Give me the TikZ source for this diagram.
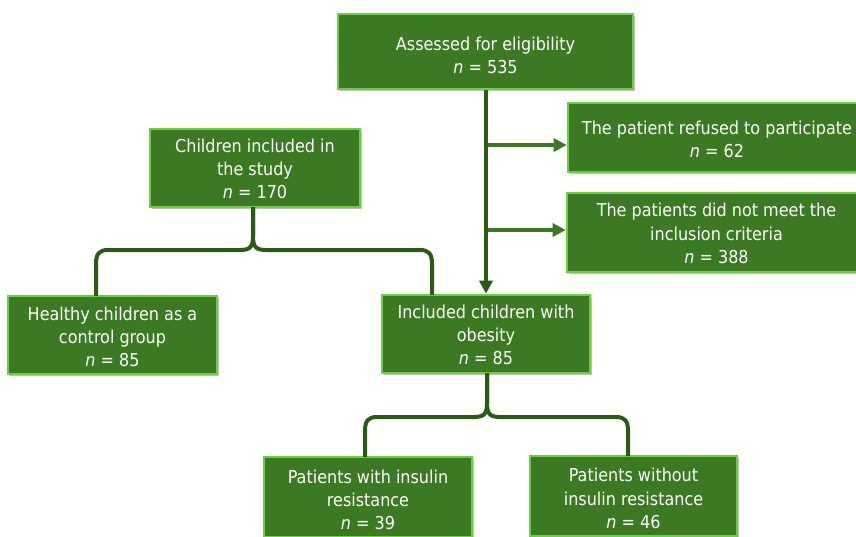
\documentclass[tikz,border=0pt]{standalone}
\usepackage{fontspec}
\setmainfont{DejaVu Sans Condensed}
\usetikzlibrary{arrows.meta,shadows}
\definecolor{boxfill}{HTML}{3B7A22}
\definecolor{boxedge}{HTML}{6AD040}
\definecolor{trunk}{HTML}{2B5A16}
\definecolor{branch}{HTML}{3A7A23}
\tikzset{
  fbox/.style={draw=boxedge, line width=2.6pt, fill=boxfill, inner sep=0pt,
    drop shadow={shadow xshift=1.5pt, shadow yshift=-1.5pt, opacity=0.25, fill=black}},
  boxtext/.style={text=white, align=center, inner sep=0pt,
    font=\fontsize{17.8}{23.2}\selectfont},
  trunkline/.style={draw=trunk, line width=3.6pt},
  branchline/.style={draw=branch, line width=3.6pt},
  bracel/.style={draw=trunk, line width=4pt},
  tip/.style={-{Triangle[length=13pt,width=13pt]}}
}
% #1 name, #2 centre, #3 width, #4 height, #5 text drop, #6 text
\newcommand{\flowbox}[6]{%
  \node[fbox, minimum width=#3, minimum height=#4] (#1) at #2 {};
  \node[boxtext] (#1-t) at ([yshift=-#5]#1.center) {#6};}
\begin{document}
\begin{tikzpicture}[x=1pt,y=-1pt]
\useasboundingbox (0,0) rectangle (856,536);
\flowbox{top}{(485.5,51.5)}{295pt}{75pt}{4pt}{Assessed for eligibility\\\textit{n} = 535}
\flowbox{refused}{(717,137.5)}{298pt}{69pt}{1.5pt}{The patient refused to participate\\\textit{n} = 62}
\flowbox{notmeet}{(716.5,232.5)}{299pt}{79pt}{1pt}{The patients did not meet the\\inclusion criteria\\\textit{n} = 388}
\flowbox{children}{(255,168)}{210pt}{78pt}{1pt}{Children included in\\the study\\\textit{n} = 170}
\flowbox{healthy}{(112.5,335)}{209pt}{78pt}{2pt}{Healthy children as a\\control group\\\textit{n} = 85}
\flowbox{obesity}{(486,334)}{208pt}{78pt}{1pt}{Included children with\\obesity\\\textit{n} = 85}
\flowbox{insulin}{(368,497)}{208pt}{80pt}{3pt}{Patients with insulin\\resistance\\\textit{n} = 39}
\flowbox{without}{(633.5,496)}{207pt}{80pt}{2.5pt}{Patients without\\insulin resistance\\\textit{n} = 46}

% trunk and branches
\coordinate (b1) at (485,145);
\coordinate (b2) at (485,230);
\draw[branchline, tip] (b1) -- (b1 -| refused.west);
\draw[branchline, tip] (b2) -- (b2 -| notmeet.west);
\draw[trunkline, tip] (top.south -| obesity.north) -- (obesity.north);

% brace 1
\coordinate (c1) at (253,207);
\coordinate (l1) at (96,296);
\coordinate (r1) at (432,295);
\draw[bracel] (c1) -- (253,236) .. controls (253,247) and (250,250) .. (240,250)
  -- (108,250) .. controls (99,250) and (96,254) .. (96,264) -- (l1);
\draw[bracel] (c1) -- (253,236) .. controls (253,247) and (256,250) .. (266,250)
  -- (420,250) .. controls (429,250) and (432,254) .. (432,264) -- (r1);

% brace 2
\coordinate (c2) at (487,373);
\coordinate (l2) at (365,457);
\coordinate (r2) at (628,456);
\draw[bracel] (c2) -- (487,403) .. controls (487,414) and (484,417) .. (474,417)
  -- (377,417) .. controls (368,417) and (365,421) .. (365,431) -- (l2);
\draw[bracel] (c2) -- (487,403) .. controls (487,414) and (490,417) .. (500,417)
  -- (616,417) .. controls (625,417) and (628,421) .. (628,431) -- (r2);
\end{tikzpicture}
\end{document}
